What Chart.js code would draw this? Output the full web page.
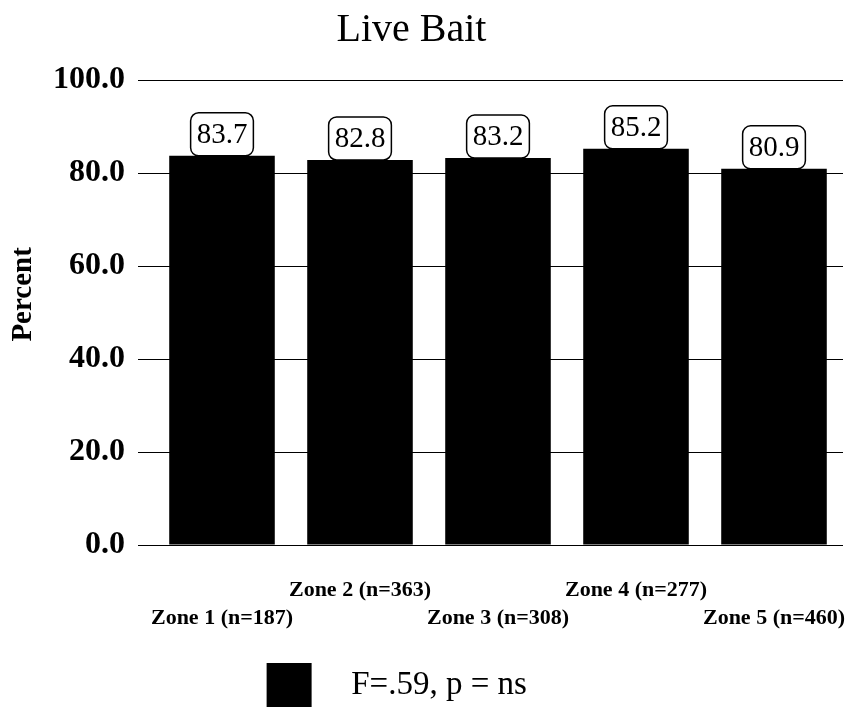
<!DOCTYPE html>
<html>
<head>
<meta charset="utf-8">
<title>Live Bait</title>
<script src="https://cdn.jsdelivr.net/npm/chart.js@4/dist/chart.umd.min.js"></script>
<style>
  html, body { margin: 0; padding: 0; background: #fff; overflow: hidden; }
  #wrap { width: 846px; height: 707px; position: relative; }
</style>
</head>
<body>
<div id="wrap"><canvas id="chart"></canvas></div>
<script>
const zoneNames = ['Zone 1', 'Zone 2', 'Zone 3', 'Zone 4', 'Zone 5'];
const sampleSizes = [187, 363, 308, 277, 460];
const percents = [83.7, 82.8, 83.2, 85.2, 80.9];
const yTicks = [0, 20, 40, 60, 80, 100];
const legendText = 'F=.59, p = ns';

const labels = zoneNames.map((z, i) => `${z} (n=${sampleSizes[i]})`);
const serif = '"Liberation Serif", "Times New Roman", serif';

// boxed value labels sitting on top of each bar
const valueBoxes = {
  id: 'valueBoxes',
  afterDatasetsDraw(chart) {
    const ctx = chart.ctx;
    const meta = chart.getDatasetMeta(0);
    ctx.save();
    ctx.font = `29px ${serif}`;
    ctx.textAlign = 'center';
    ctx.textBaseline = 'middle';
    meta.data.forEach((bar, i) => {
      const text = percents[i].toFixed(1);
      const w = ctx.measureText(text).width + 12;
      const h = 43;
      const x = bar.x - w / 2;
      const y = bar.y - h;
      ctx.beginPath();
      ctx.roundRect(x, y, w, h, 8);
      ctx.fillStyle = '#fff';
      ctx.fill();
      ctx.lineWidth = 1.5;
      ctx.strokeStyle = '#000';
      ctx.stroke();
      ctx.fillStyle = '#000';
      ctx.fillText(text, bar.x, y + h / 2 + 1);
    });
    ctx.restore();
  }
};

new Chart(document.getElementById('chart'), {
  type: 'bar',
  data: {
    labels: labels,
    datasets: [{
      label: '  \u2009' + legendText + '      ',
      data: percents,
      backgroundColor: '#000',
      borderWidth: 0,
      categoryPercentage: 1,
      barPercentage: 0.765
    }]
  },
  options: {
    responsive: true,
    maintainAspectRatio: false,
    animation: false,
    layout: { padding: { left: 0, right: 3, top: 0, bottom: -10 } },
    plugins: {
      title: {
        display: true,
        text: 'Live Bait  ',
        color: '#000',
        font: { family: serif, size: 40, weight: 'normal' },
        padding: { top: 6, bottom: 26 }
      },
      legend: {
        position: 'bottom',
        labels: {
          color: '#000',
          font: { family: serif, size: 33 },
          boxWidth: 45,
          boxHeight: 44,
          padding: 10
        }
      },
      tooltip: { enabled: false }
    },
    scales: {
      x: {
        grid: { display: false },
        border: { display: false },
        afterFit: (s) => { s.height = 108; s.paddingLeft = 0; s.paddingRight = 0; },
        ticks: {
          autoSkip: false,
          maxRotation: 0,
          padding: 23,
          color: '#000',
          font: { family: serif, size: 22, weight: 'bold', lineHeight: 1.27 },
          callback: (v, i) => i % 2 === 0 ? ['', labels[i]] : [labels[i], '']
        }
      },
      y: {
        min: 0,
        max: 100,
        afterFit: (s) => { s.width = 153; },
        afterBuildTicks: (s) => { s.ticks = yTicks.map(v => ({ value: v })); },
        grid: { color: '#000', lineWidth: 1, tickLength: 15 },
        border: { display: false },
        title: {
          display: true,
          text: '     Percent',
          color: '#000',
          font: { family: serif, size: 29, weight: 'bold' },
          padding: { top: 6, bottom: 0 }
        },
        ticks: {
          padding: 13,
          color: '#000',
          font: { family: serif, size: 32, weight: 'bold' },
          callback: (v) => Number(v).toFixed(1)
        }
      }
    }
  },
  plugins: [valueBoxes]
});
</script>
</body>
</html>
